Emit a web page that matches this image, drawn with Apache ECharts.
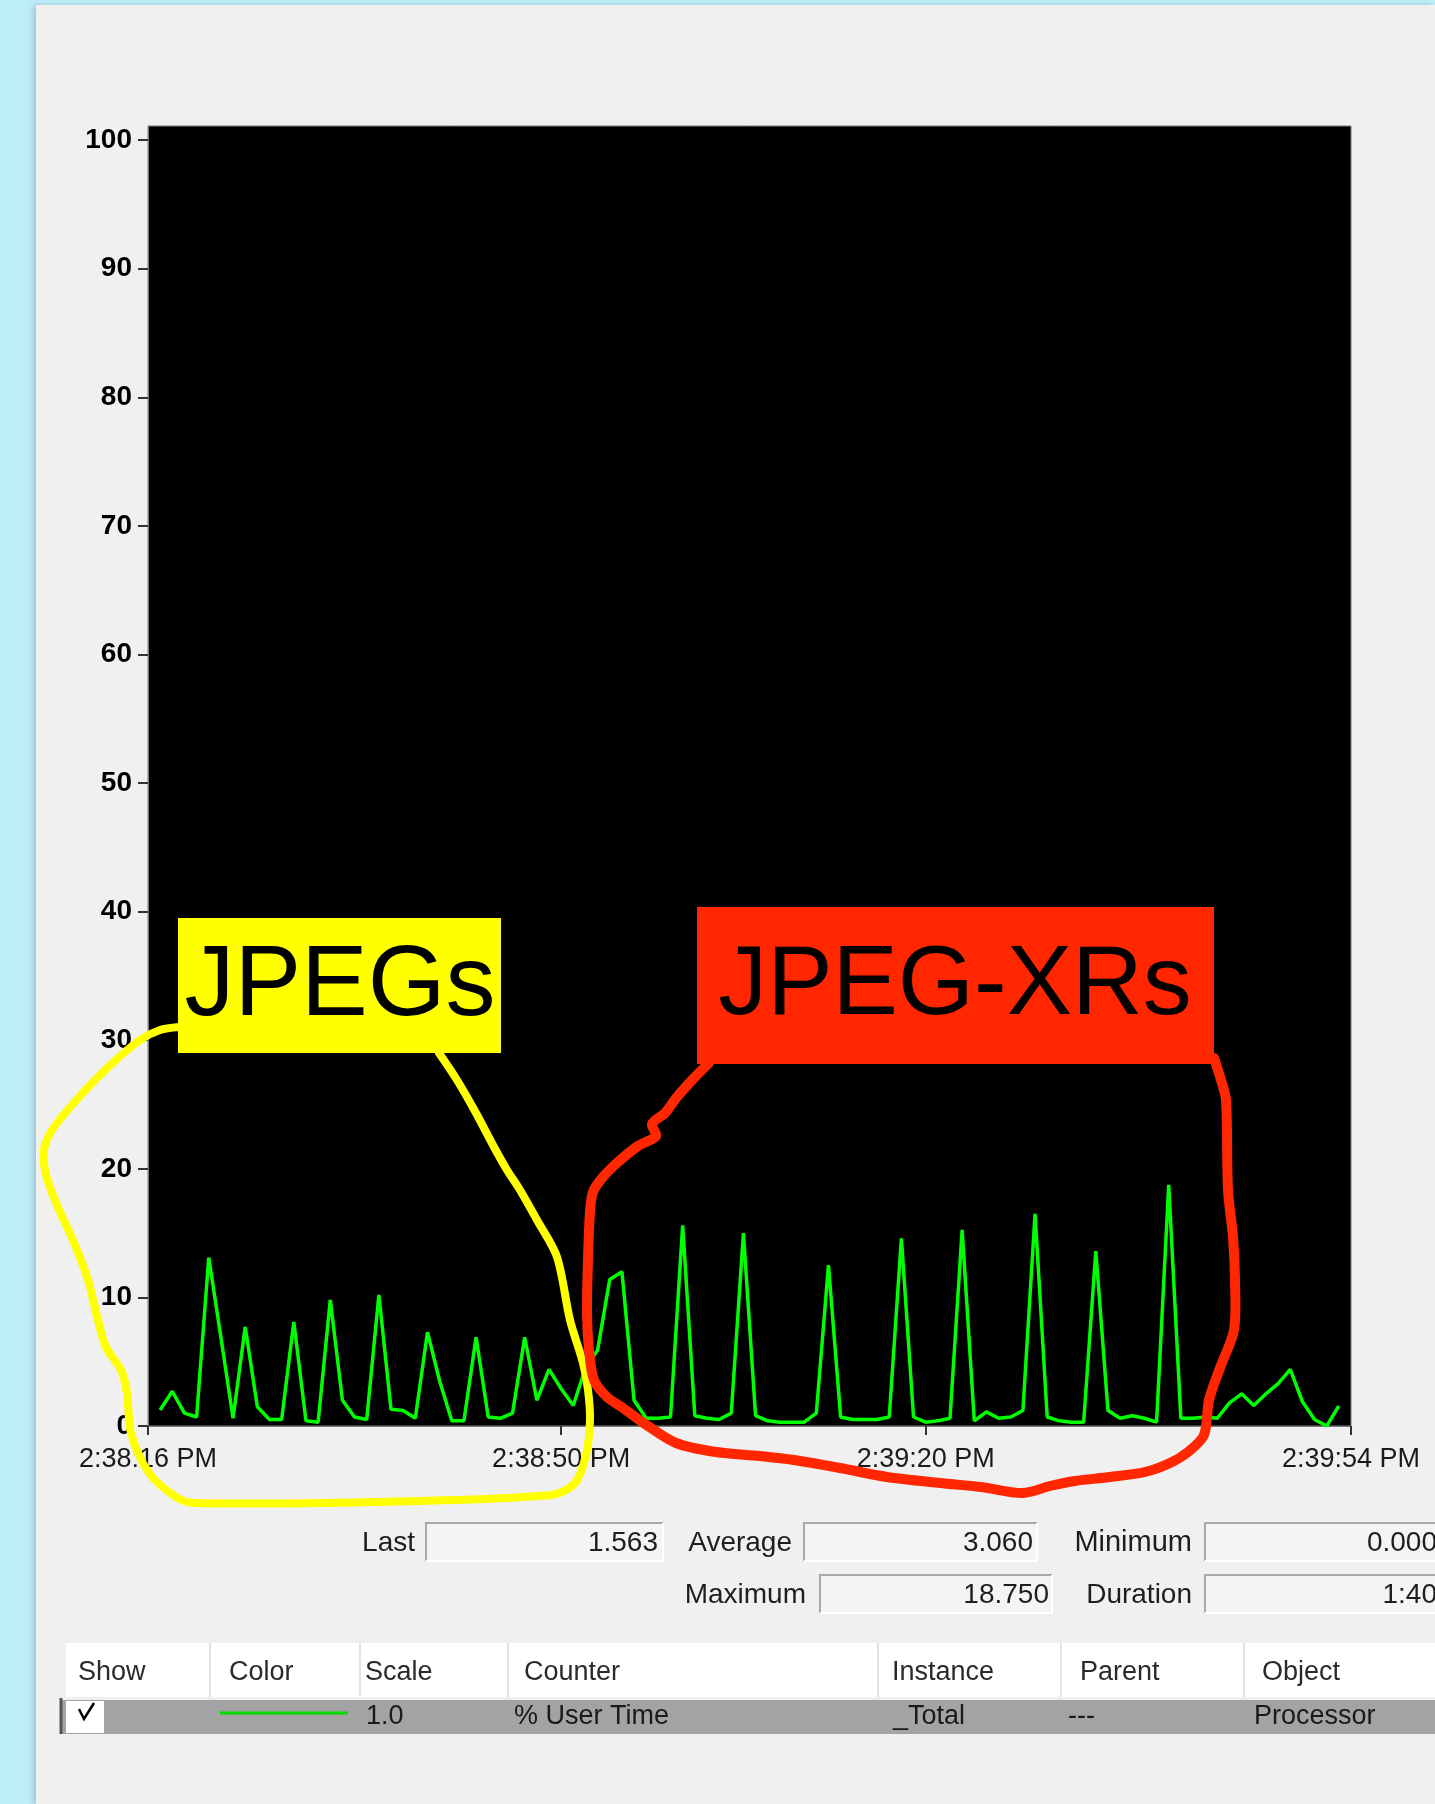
<!DOCTYPE html>
<html><head><meta charset="utf-8">
<script src="https://cdn.jsdelivr.net/npm/echarts@6/dist/echarts.min.js"></script>
<style>
html,body{margin:0;padding:0;background:#bfeefb;width:1435px;height:1804px;overflow:hidden;}
#panel{position:absolute;left:36px;top:5px;width:1399px;height:1799px;background:#f0f0f0;box-shadow:-3px 0 6px rgba(0,0,0,0.18);}
#chart{position:absolute;left:0;top:0;width:1435px;height:1804px;}
</style></head><body><div id="panel"></div><div id="chart"></div>
<script>
// ---- data ----
const timeTicks = [0, 34, 64, 99];
const timeLabels = ['2:38:16 PM', '2:38:50 PM', '2:39:20 PM', '2:39:54 PM'];
const yTicks = [0, 10, 20, 30, 40, 50, 60, 70, 80, 90, 100];
// % User Time samples 1..98
const userTime = [
  1.25, 2.7, 1.0, 0.7, 13.1, 6.9, 0.6, 7.7, 1.5, 0.5,
  0.5, 8.1, 0.4, 0.3, 9.8, 2.0, 0.7, 0.5, 10.2, 1.3,
  1.2, 0.6, 7.3, 3.5, 0.4, 0.4, 6.9, 0.7, 0.6, 1.0,
  6.9, 2.0, 4.4, 2.9, 1.6, 4.5, 5.9, 11.4, 12.0, 2.0,
  0.6, 0.6, 0.7, 15.6, 0.8, 0.6, 0.5, 1.0, 15.0, 0.8,
  0.4, 0.3, 0.3, 0.3, 1.0, 12.5, 0.7, 0.5, 0.5, 0.5,
  0.7, 14.6, 0.7, 0.3, 0.4, 0.6, 15.25, 0.4, 1.1, 0.6,
  0.7, 1.2, 16.5, 0.7, 0.4, 0.3, 0.3, 13.6, 1.2, 0.6,
  0.8, 0.6, 0.3, 18.75, 0.6, 0.6, 0.7, 0.6, 1.8, 2.5,
  1.6, 2.5, 3.3, 4.4, 1.9, 0.5, 0.0, 1.563
];
const statLabels = ['Last', 'Average', 'Minimum', 'Maximum', 'Duration'];
const statValues = ['1.563', '3.060', '0.000', '18.750', '1:40'];
const tableHeaders = ['Show', 'Color', 'Scale', 'Counter', 'Instance', 'Parent', 'Object'];
const tableRow = ['', '', '1.0', '% User Time', '_Total', '---', 'Processor'];
const annotations = ['JPEGs', 'JPEG-XRs'];

// ---- drawing ----
const FONT = '"Liberation Sans", Arial, sans-serif';
const chart = echarts.init(document.getElementById('chart'), null, {renderer: 'canvas'});

const yellowLoop = [[179,1027],[160,1030],[140,1040],[118,1058],[95,1080],[72,1105],[52,1130],[44,1150],[46,1175],[57,1205],[75,1245],[88,1280],[105,1345],[121,1370],[127,1393],[131,1433],[149,1473],[176,1497],[194,1503],[372,1502],[551,1495],[575,1483],[586,1455],[590,1420],[588,1390],[583,1363],[570,1320],[557,1257],[537,1220],[520,1190],[507,1170],[494,1147],[476,1113],[457,1080],[439,1053]];
const redLoop = [[709,1063],[695,1077],[677,1097],[665,1113],[652,1124],[656,1136],[638,1146],[618,1162],[603,1177],[593,1192],[590,1212],[588,1260],[587,1313],[589,1350],[594,1380],[607,1397],[623,1408],[645,1424],[676,1443],[716,1452],[760,1456],[794,1460],[840,1468],[887,1477],[940,1483],[981,1487],[1023,1493],[1050,1486],[1075,1481],[1110,1477],[1145,1472],[1170,1463],[1188,1452],[1204,1435],[1209,1400],[1220,1368],[1234,1330],[1235,1280],[1233,1237],[1228,1190],[1226,1100],[1221,1080],[1214,1058]];

function txt(text, x, y, size, align, color, weight, z) {
  return {type: 'text', z: z || 20, style: {text: text, x: x, y: y, font: (weight || 'normal') + ' ' + size + 'px ' + FONT,
    fill: color || '#1e1e1e', align: align || 'left', verticalAlign: 'middle', textAlign: align || 'left', textVerticalAlign: 'middle'}};
}
function field(x, y, w, h) {
  return [
    {type: 'rect', z: 10, shape: {x: x, y: y, width: w, height: h}, style: {fill: '#f4f4f4'}},
    {type: 'polyline', z: 11, shape: {points: [[x, y + h], [x, y], [x + w, y]]}, style: {stroke: '#a9a9a9', lineWidth: 2, fill: null}},
    {type: 'polyline', z: 11, shape: {points: [[x, y + h], [x + w, y + h], [x + w, y]]}, style: {stroke: '#ffffff', lineWidth: 2, fill: null}}
  ];
}

const g = [];
// annotation boxes
g.push({type: 'rect', z: 50, shape: {x: 178, y: 918, width: 323, height: 135}, style: {fill: '#ffff00'}});
g.push(txt(annotations[0], 340, 987, 100, 'center', '#000', 'normal', 51));
g.push({type: 'rect', z: 50, shape: {x: 697, y: 907, width: 517, height: 157}, style: {fill: '#ff2600'}});
g.push(txt(annotations[1], 955, 987, 98, 'center', '#000', 'normal', 51));
// hand-drawn loops
g.push({type: 'polyline', z: 60, shape: {points: yellowLoop, smooth: 0.3}, style: {stroke: '#ffff00', lineWidth: 8, lineCap: 'round', lineJoin: 'round', fill: null}});
g.push({type: 'polyline', z: 61, shape: {points: redLoop, smooth: 0.3}, style: {stroke: '#ff2600', lineWidth: 10, lineCap: 'round', lineJoin: 'round', fill: null}});

// stats
g.push(txt(statLabels[0], 415, 1543, 28, 'right'));
field(426, 1523, 237, 38).forEach(e => g.push(e));
g.push(txt(statValues[0], 658, 1543, 28, 'right'));
g.push(txt(statLabels[1], 792, 1543, 28, 'right'));
field(804, 1523, 233, 38).forEach(e => g.push(e));
g.push(txt(statValues[1], 1033, 1543, 28, 'right'));
g.push(txt(statLabels[2], 1192, 1543, 29, 'right'));
field(1205, 1523, 240, 38).forEach(e => g.push(e));
g.push(txt(statValues[2], 1437, 1543, 28, 'right'));
g.push(txt(statLabels[3], 806, 1595, 28, 'right'));
field(820, 1575, 232, 38).forEach(e => g.push(e));
g.push(txt(statValues[3], 1049, 1595, 28, 'right'));
g.push(txt(statLabels[4], 1192, 1595, 28, 'right'));
field(1205, 1575, 240, 38).forEach(e => g.push(e));
g.push(txt(statValues[4], 1437, 1595, 28, 'right'));

// table
g.push({type: 'rect', z: 10, shape: {x: 66, y: 1643, width: 1369, height: 54}, style: {fill: '#ffffff'}});
const headX = [78, 229, 365, 524, 892, 1080, 1262];
const rowX = [0, 0, 366, 514, 893, 1068, 1254];
const sepX = [210, 360, 508, 878, 1061, 1244];
sepX.forEach(x => g.push({type: 'line', z: 11, shape: {x1: x, y1: 1643, x2: x, y2: 1697}, style: {stroke: '#e2e2e2', lineWidth: 2}}));
tableHeaders.forEach((h, k) => g.push(txt(h, headX[k], 1673, 27, 'left', '#2a2a2a')));
g.push({type: 'rect', z: 10, shape: {x: 60, y: 1700, width: 1375, height: 34}, style: {fill: '#a3a3a3'}});
g.push({type: 'line', z: 12, shape: {x1: 61, y1: 1698, x2: 61, y2: 1734}, style: {stroke: '#555', lineWidth: 3}});
g.push({type: 'rect', z: 11, shape: {x: 66, y: 1701, width: 38, height: 32}, style: {fill: '#ffffff'}});
g.push({type: 'polyline', z: 12, shape: {points: [[79, 1709], [84, 1719], [94, 1703]]}, style: {stroke: '#000', lineWidth: 2.5, fill: null}});
g.push({type: 'line', z: 12, shape: {x1: 220, y1: 1713, x2: 348, y2: 1713}, style: {stroke: '#00dd00', lineWidth: 3}});
tableRow.forEach((t, k) => { if (t) g.push(txt(t, rowX[k], 1717, 27, 'left', '#1a1a1a')); });

const option = {
  backgroundColor: 'transparent',
  animation: false,
  grid: {left: 148, top: 126, right: 84, bottom: 378, show: true, backgroundColor: '#000', borderColor: '#7a7a7a', borderWidth: 1},
  xAxis: {
    type: 'value', min: 0, max: 99,
    splitLine: {show: false},
    axisLine: {show: true, lineStyle: {color: '#7a7a7a', width: 1}},
    axisTick: {show: true, customValues: timeTicks, length: 9, lineStyle: {color: '#333', width: 2}},
    axisLabel: {customValues: timeTicks, formatter: v => timeLabels[timeTicks.indexOf(v)] || '', margin: 20,
      fontSize: 27, color: '#1a1a1a', fontFamily: FONT}
  },
  yAxis: {
    type: 'value', min: 0, max: 101.1,
    splitLine: {show: false},
    axisLine: {show: true, lineStyle: {color: '#7a7a7a', width: 1}},
    axisTick: {show: true, customValues: yTicks, length: 10, lineStyle: {color: '#333', width: 2}},
    axisLabel: {customValues: yTicks, margin: 16, fontSize: 28, fontWeight: 'bold', color: '#000', fontFamily: FONT}
  },
  series: [{
    type: 'line', data: userTime.map((v, k) => [k + 1, v]), showSymbol: false, symbol: 'none',
    lineStyle: {color: '#00ff00', width: 3.5}, z: 5
  }],
  graphic: g
};
chart.setOption(option);
</script></body></html>
